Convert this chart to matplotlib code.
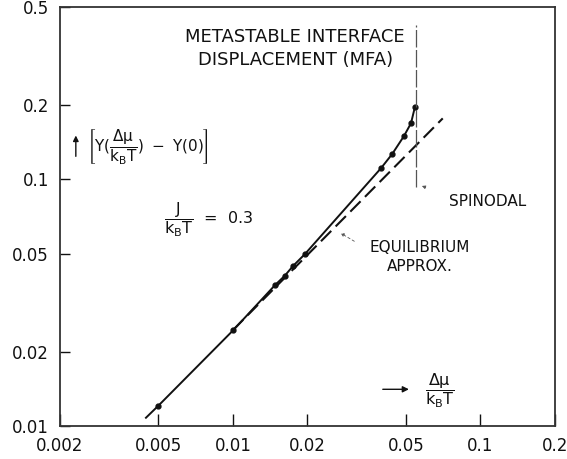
import matplotlib
matplotlib.use("Agg")
import matplotlib.pyplot as plt

plt.rcParams['font.family'] = ['DejaVu Sans']
plt.rcParams['mathtext.fontset'] = 'dejavusans'
plt.rcParams['mathtext.default'] = 'regular'

# metastable interface displacement (MFA), solid curve with points
mfa_x = [0.00445, 0.005, 0.010, 0.0148, 0.0162, 0.0175, 0.0195, 0.0396, 0.0440, 0.0491, 0.0524, 0.0543]
mfa_y = [0.0108, 0.0121, 0.0244, 0.0373, 0.0407, 0.0446, 0.0497, 0.1109, 0.1268, 0.150, 0.169, 0.196]
point_x = mfa_x[1:]
point_y = mfa_y[1:]

# equilibrium approximation (dashed)
eq_x = [0.010, 0.0704]
eq_y = [0.0245, 0.1768]

# spinodal
spinodal_x = 0.055
spinodal_y = [0.0931, 0.423]

xticks = [0.002, 0.005, 0.01, 0.02, 0.05, 0.1, 0.2]
xlabels = ['0.002', '0.005', '0.01', '0.02', '0.05', '0.1', '0.2']
yticks = [0.01, 0.02, 0.05, 0.1, 0.2, 0.5]
ylabels = ['0.01', '0.02', '0.05', '0.1', '0.2', '0.5']

ink = '#111111'

fig = plt.figure(figsize=(5.67, 4.59), dpi=100)
ax = fig.add_axes([0.1058, 0.0719, 0.873, 0.9128])

ax.plot(mfa_x, mfa_y, color=ink, lw=1.4)
ax.plot(point_x, point_y, 'o', color=ink, ms=3.5)
ax.plot(eq_x, eq_y, color=ink, lw=1.5, dashes=(7, 3))
ax.plot([spinodal_x, spinodal_x], spinodal_y, color='#555555', lw=0.9, dashes=(14, 2))

ax.set_xscale('log')
ax.set_yscale('log')
ax.set_xlim(0.002, 0.2)
ax.set_ylim(0.01, 0.5)
ax.minorticks_off()
ax.set_xticks(xticks)
ax.set_xticklabels(xlabels)
ax.set_yticks(yticks)
ax.set_yticklabels(ylabels)
ax.tick_params(direction='in', length=7, width=1, colors=ink, labelsize=12, pad=8)
ax.tick_params(axis='x', length=9)
for s in ax.spines.values():
    s.set_linewidth(1.3)
    s.set_color('#333333')

ax.text(0.475, 0.901, 'METASTABLE INTERFACE\nDISPLACEMENT (MFA)', transform=ax.transAxes,
        ha='center', va='center', fontsize=13, color=ink, linespacing=1.3)

ax.text(0.0545, 0.668, r'$\left[Y(\dfrac{\Delta\mu}{k_BT})\ -\ Y(0)\right]$', transform=ax.transAxes,
        ha='left', va='center', fontsize=11, color=ink)
ax.annotate('', xy=(0.032, 0.70), xytext=(0.032, 0.637), xycoords='axes fraction',
            arrowprops=dict(arrowstyle='-|>', color=ink, lw=1, mutation_scale=8))

ax.text(0.30, 0.4916, r'$\dfrac{J}{k_BT}$  =  0.3', transform=ax.transAxes,
        ha='center', va='center', fontsize=11.5, color=ink)

ax.text(0.8636, 0.5353, 'SPINODAL', transform=ax.transAxes,
        ha='center', va='center', fontsize=11, color=ink)
ax.annotate('', xy=(0.7259, 0.5752), xytext=(0.744, 0.5673), xycoords='axes fraction',
            arrowprops=dict(arrowstyle='-|>', color='#555555', lw=0.6, mutation_scale=5))

ax.text(0.726, 0.404, 'EQUILIBRIUM\nAPPROX.', transform=ax.transAxes,
        ha='center', va='center', fontsize=11, color=ink, linespacing=1.3)
ax.annotate('', xy=(0.5622, 0.4637), xytext=(0.5994, 0.4375), xycoords='axes fraction',
            arrowprops=dict(arrowstyle='-|>', color='#555555', lw=0.6, ls=(0, (3, 3)), mutation_scale=5))

ax.text(0.7677, 0.0835, r'$\dfrac{\Delta\mu}{k_BT}$', transform=ax.transAxes,
        ha='center', va='center', fontsize=11.5, color=ink)
ax.annotate('', xy=(0.7105, 0.0876), xytext=(0.6465, 0.0876), xycoords='axes fraction',
            arrowprops=dict(arrowstyle='-|>', color=ink, lw=1, mutation_scale=9))

fig.savefig('out.png', dpi=100)
